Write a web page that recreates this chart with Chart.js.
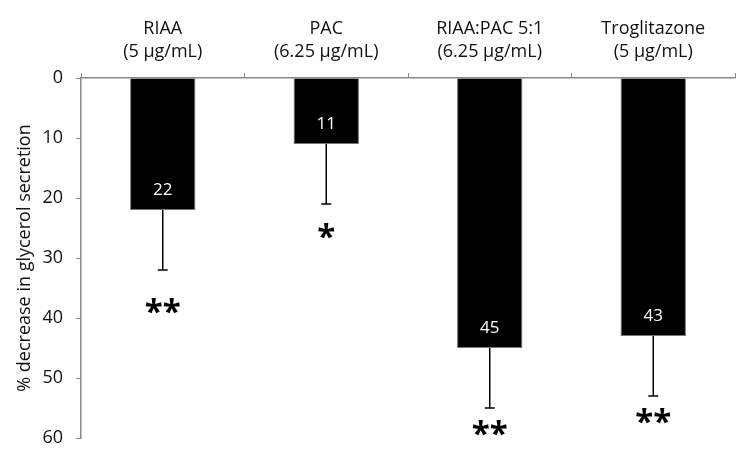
<!DOCTYPE html>
<html>
<head>
<meta charset="utf-8">
<script src="https://cdn.jsdelivr.net/npm/chart.js@4/dist/chart.umd.min.js"></script>
<style>
   html, body { margin: 0; padding: 0; background: #fff; }
   #wrap { width: 744px; height: 462px; }
</style>
</head>
<body>
<div id="wrap"><canvas id="myChart"></canvas></div>
<script>
const categories = [
   ['RIAA', '(5 µg/mL)'],
   ['PAC', '(6.25 µg/mL)'],
   ['RIAA:PAC 5:1', '(6.25 µg/mL)'],
   ['Troglitazone', '(5 µg/mL)']
];
const decrease = [22, 11, 45, 43];
const errors = [10, 10, 10, 10];
const signif = ['**', '*', '**', '**'];
const signifAt = [38, 25.5, 58.3, 56.2];
const yTicks = [0, 10, 20, 30, 40, 50, 60];

const FONT = "'Open Sans', 'Liberation Sans', sans-serif";

// error bars, value labels and asterisks
const extras = {
   id: 'extras',
   afterDatasetsDraw(chart) {
      const ctx = chart.ctx;
      const y = chart.scales.y;
      const bars = chart.getDatasetMeta(0).data;
      ctx.save();
      bars.forEach((bar, i) => {
         const end = y.getPixelForValue(decrease[i] + errors[i]);
         ctx.strokeStyle = '#000';
         ctx.lineWidth = 1.5;
         ctx.beginPath();
         ctx.moveTo(bar.x, bar.y);
         ctx.lineTo(bar.x, end);
         ctx.moveTo(bar.x - 5, end);
         ctx.lineTo(bar.x + 5, end);
         ctx.stroke();

         ctx.fillStyle = '#fff';
         ctx.font = '17px ' + FONT;
         ctx.textAlign = 'center';
         ctx.textBaseline = 'middle';
         ctx.fillText(decrease[i], bar.x, bar.y - 20);

         ctx.fillStyle = '#000';
         ctx.font = 'bold 33px ' + FONT;
         ctx.fillText(signif[i], bar.x, y.getPixelForValue(signifAt[i]) + 8);
      });
      ctx.restore();
   }
};

new Chart(document.getElementById('myChart').getContext('2d'), {
   type: 'bar',
   data: {
      labels: categories,
      datasets: [{
         data: decrease,
         backgroundColor: '#000',
         borderColor: '#777',
         borderWidth: 1,
         barPercentage: 0.4,
         categoryPercentage: 1
      }]
   },
   options: {
      responsive: true,
      maintainAspectRatio: false,
      animation: false,
      layout: { padding: { top: 0, left: 14, right: 9, bottom: 24 } },
      plugins: {
         legend: { display: false },
         tooltip: { enabled: false }
      },
      scales: {
         x: {
            position: 'top',
            afterFit: s => { s.height = 78; },
            grid: {
               drawOnChartArea: false,
               offset: true,
               tickLength: 5,
               color: '#888'
            },
            border: { color: '#888', width: 1.5 },
            ticks: {
               color: '#111',
               font: { family: FONT, size: 18, lineHeight: 1.3 },
               padding: 9
            }
         },
         y: {
            reverse: true,
            min: 0,
            max: 60,
            afterFit: s => { s.width = 67; },
            afterBuildTicks: s => { s.ticks = yTicks.map(v => ({ value: v })); },
            grid: {
               drawOnChartArea: false,
               tickLength: 5,
               color: '#888'
            },
            border: { color: '#888', width: 1.5 },
            ticks: {
               color: '#111',
               font: { family: FONT, size: 18 },
               padding: 13
            },
            title: {
               display: true,
               text: '% decrease in glycerol secretion',
               color: '#111',
               font: { family: FONT, size: 18 },
               padding: 0
            }
         }
      }
   },
   plugins: [extras]
});
</script>
</body>
</html>
